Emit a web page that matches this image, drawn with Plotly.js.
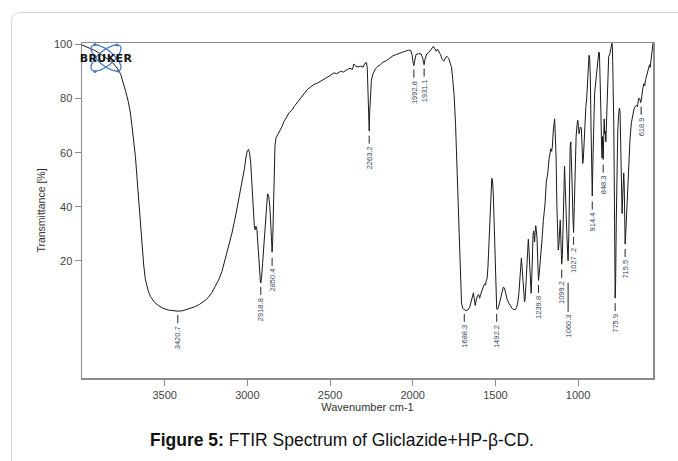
<!DOCTYPE html>
<html>
<head>
<meta charset="utf-8">
<script src="https://cdn.plot.ly/plotly-3.0.1.min.js"></script>
<style>
  html, body { margin: 0; padding: 0; background: #ffffff; }
  #wrap { position: relative; width: 678px; height: 461px; overflow: hidden; }
  #chart { position: absolute; left: 0; top: 0; width: 678px; height: 461px; }
  #frame { position: absolute; left: 11px; top: 12px; width: 720px; height: 520px;
           border: 1px solid #d6d6d6; border-radius: 9px; pointer-events: none; }
  #logo { position: absolute; left: 80px; top: 40px; width: 56px; height: 38px; pointer-events: none; }
</style>
</head>
<body>
<div id="wrap">
  <div id="chart"></div>
  <div id="frame"></div>
  <svg id="logo" viewBox="0 0 56 38" xmlns="http://www.w3.org/2000/svg">
    <g fill="none" stroke="#4a7cc4" stroke-width="1.3">
      <ellipse cx="26" cy="18" rx="18.5" ry="7.5" transform="rotate(40 26 18)"/>
      <ellipse cx="26" cy="18" rx="18.5" ry="7.5" transform="rotate(-40 26 18)"/>
    </g>
    <g fill="#4a7cc4">
      <circle cx="15" cy="4.5" r="1.5"/><circle cx="15" cy="31.5" r="1.5"/>
      <circle cx="38" cy="31" r="1.5"/><circle cx="37" cy="5" r="1.5"/>
    </g>
    <text x="26" y="22" text-anchor="middle" font-family="DejaVu Sans, Liberation Sans, sans-serif"
          font-weight="bold" font-size="11" fill="#111" letter-spacing="0.4">BRUKER</text>
  </svg>
</div>
<script>
// ---- Spectrum data (wavenumber cm-1, transmittance %) ----
const wavenumber = [
 4000,3980,3960,3930,3900,3870,3840,3820,3800,3780,3765,3750,3735,3720,3708,3698,3688,3677,3667,3657,
 3647,3637,3627,3617,3600,3586,3560,3536,3510,3476,3445,3420,3390,3355,3320,3290,3275,3250,3230,3214,
 3195,3175,3154,3135,3115,3093,3070,3050,3033,3018,3008,3000,2993,2987,2980,2972,2965,2958,2953,2948,
 2942,2935,2928,2922,2918.8,2914,2908,2900,2892,2884,2878,2871,2864,2858,2853,2850.4,2847,2843,2838,2833,
 2827,2815,2800,2789,2779,2769,2759,2749,2738,2728,2718,2708,2690,2678,2660,2638,2620,2598,2580,2557,
 2540,2517,2500,2477,2460,2436,2420,2396,2380,2365,2356,2345,2330,2316,2300,2290,2280,2275,2270,2266,
 2263.2,2260,2256,2250,2240,2225,2210,2195,2180,2160,2140,2120,2100,2080,2060,2040,2025,2012,2003,1997,
 1992.8,1988,1980,1965,1950,1940,1935,1931.1,1926,1915,1900,1885,1875,1868,1858,1850,1840,1832,1822,1812,
 1800,1792,1782,1772,1765,1758,1750,1741,1731,1722,1715,1710,1705,1698,1688.3,1675,1665,1655,1645,1638,
 1633,1628,1622,1616,1608,1601,1595,1590,1583,1576,1570,1565,1560,1555,1550,1545,1540,1535,1528,1522,
 1518,1513,1508,1502,1497,1494,1492.2,1488,1482,1475,1468,1460,1452,1445,1438,1430,1420,1410,1399,1390,
 1380,1372,1365,1358,1352,1347,1343,1339,1334,1329,1324,1320,1315,1310,1305,1301,1297,1292,1288,1284,
 1280,1276,1272,1268,1263,1260,1256,1252,1248,1244,1239.8,1236,1230,1224,1218,1210,1200,1192,1184,1176,
 1170,1165,1160,1156,1150,1145,1142,1138,1133,1128,1124,1120,1116,1112,1108,1104,1099.2,1095,1090,1086,
 1082,1078,1074,1068,1064,1060.3,1056,1052,1048,1044,1040,1036,1031,1027.2,1023,1018,1012,1006,1002,998,
 994,990,985,980,976,972,968,963,958,953,948,943,938,934,930,926,922,918,914.4,910,
 905,900,895,890,885,880,875,871,866,862,858,855,852,848.3,845,842,839,836,832,828,
 824,820,815,808,803,798,795,792,788,784,780,777,775.9,773,769,765,760,755,750,746,
 742,738,734,730,727,724,721,718,715.5,712,707,700,693,686,678,670,662,655,648,641,
 634,627,622,618.9,614,608,602,597,592,585,578,573,568,564,560,555,550,547
];
const transmittance = [
 99.8,99.3,98.8,98.0,97.0,95.8,94.5,93.5,92.3,90.7,88.8,86.0,82.5,78.8,75.0,70.0,64.5,58.6,50.5,42.6,
 33.5,25.3,18.5,13.2,9.0,6.8,4.6,3.4,2.5,1.8,1.5,1.4,1.6,2.2,3.0,3.9,4.5,5.6,7.0,8.3,
 10.5,12.8,16.0,20.5,25.0,30.3,37.0,43.5,48.8,54.0,58.5,60.8,61.2,60.0,56.5,48.0,38.0,33.0,31.5,32.8,
 31.5,24.0,17.0,13.0,11.8,14.0,19.0,26.0,35.0,42.5,44.8,44.0,40.0,33.0,25.0,23.2,27.0,40.0,52.0,62.5,
 65.5,66.8,68.5,69.8,71.5,72.8,73.5,74.7,75.3,75.9,77.0,77.8,79.5,80.3,81.8,83.3,84.2,85.2,85.6,86.4,
 87.2,87.7,88.5,89.5,89.2,90.1,89.8,90.7,91.2,90.8,92.8,92.0,91.7,92.0,91.6,93.0,93.3,91.5,84.0,74.0,
 68.0,75.0,83.0,86.8,89.2,91.0,92.0,92.5,93.5,94.0,94.9,95.8,96.3,96.9,97.2,97.6,97.9,97.8,96.0,93.0,
 92.2,94.0,96.3,96.6,96.5,95.0,93.0,92.5,94.5,96.5,97.2,98.5,99.3,98.6,97.5,98.3,97.2,96.3,94.5,93.8,
 95.3,95.6,94.8,93.2,91.5,87.0,81.5,70.5,51.5,31.5,18.0,10.0,4.5,2.5,1.9,1.6,2.0,3.0,5.5,7.5,
 8.2,6.0,3.5,5.5,7.2,7.5,6.2,7.5,9.0,9.8,11.0,11.5,11.0,12.8,13.5,18.0,25.5,36.0,46.0,50.5,
 50.0,45.0,35.0,20.0,9.0,4.0,2.2,2.0,2.8,4.5,6.2,9.0,10.3,10.0,8.0,6.0,4.5,3.2,2.4,2.0,
 2.0,2.8,4.5,8.0,14.0,19.5,21.0,18.0,12.0,8.0,4.8,6.0,13.0,20.5,26.5,28.0,24.0,15.0,9.0,8.0,
 14.0,24.0,30.0,31.0,27.0,30.5,33.0,31.0,28.0,20.0,12.8,14.5,18.5,23.0,28.0,35.0,41.0,49.5,52.0,57.5,
 60.0,61.5,60.5,62.0,68.0,72.5,72.5,67.0,58.0,40.0,27.0,24.0,26.0,33.0,35.0,28.0,18.8,22.0,35.0,50.0,
 55.0,48.0,36.0,30.0,24.0,20.0,30.0,50.0,62.0,64.0,58.0,48.0,36.0,30.5,40.0,55.0,66.0,70.5,72.0,70.0,
 67.0,68.5,69.5,69.0,64.0,56.0,58.0,66.0,75.0,77.0,80.0,88.0,94.0,96.0,95.0,88.0,70.0,52.0,44.0,58.0,
 73.0,82.0,85.0,88.0,92.0,95.0,97.2,97.0,88.0,75.0,62.0,58.0,66.0,57.5,66.0,72.5,67.0,68.0,64.0,72.0,
 82.0,92.0,95.5,96.5,98.5,99.0,100.5,98.0,88.0,70.0,40.0,14.0,6.2,12.0,35.0,55.0,68.0,74.0,76.5,75.0,
 62.0,45.0,37.5,44.0,50.0,52.5,48.0,36.0,26.2,30.0,38.0,48.0,57.0,65.0,71.0,74.5,76.0,77.0,77.5,77.0,
 80.0,80.0,78.5,79.0,82.0,84.0,85.5,84.8,87.0,88.5,90.0,92.0,92.5,91.5,94.0,97.0,99.5,100.5
];

// ---- Peak annotations (Bruker style) ----
const peakWavenumbers = [3420.7,2918.8,2850.4,2263.2,1992.8,1931.1,1688.3,1492.2,1239.8,1099.2,1060.3,1027.2,914.4,848.3,775.9,715.5,618.9];
const peakLabels      = ["3420.7","2918.8","2850.4","2263.2","1992.8","1931.1","1688.3","1492.2","1239.8","1099.2","1060.3","1027 .2","914.4","848.3","775.9","715.5","618.9"];
const peakMarkLevel   = [0.0,10.4,21.1,66.3,90.7,91.1,0.4,0.4,11.1,16.7,11.9,28.9,41.9,55.6,4.4,24.4,77.0];

// ---- Axis ticks ----
const xTicks = [3500,3000,2500,2000,1500,1000];
const yTicks = [20,40,60,80,100];

const FONT = "Liberation Sans, Arial, Helvetica, sans-serif";
const dashLen = {"1060.3": 29};

const shapes = [];
const annotations = [];
peakWavenumbers.forEach((w, i) => {
  const len = dashLen[peakLabels[i]] || 8;
  shapes.push({
    type: "line", xref: "x", yref: "y", ysizemode: "pixel",
    x0: w, x1: w, yanchor: peakMarkLevel[i], y0: 0, y1: -len,
    line: { color: "#222", width: 1 }
  });
  annotations.push({
    x: w, y: peakMarkLevel[i], xref: "x", yref: "y",
    text: peakLabels[i], showarrow: false, textangle: -90,
    xanchor: "center", yanchor: "top", yshift: -(len + 2),
    font: { family: FONT, size: 7.5, color: "#3a4560" }, borderpad: 0
  });
});

annotations.push({
  xref: "paper", yref: "paper", x: 0.456, y: -0.185, xanchor: "center", yanchor: "middle",
  showarrow: false,
  text: "<b>Figure 5:</b> FTIR Spectrum of Gliclazide+HP-\u03b2-CD.",
  font: { family: FONT, size: 17.5, color: "#111" }
});

const trace = {
  x: wavenumber, y: transmittance, type: "scatter", mode: "lines",
  line: { color: "#1a1a1a", width: 1 }, hoverinfo: "skip"
};

const axisCommon = {
  showgrid: false, zeroline: false, showline: true, mirror: true,
  linecolor: "#8c8c8c", linewidth: 1.5, ticks: "outside", ticklen: 6,
  tickcolor: "#8c8c8c", tickwidth: 1,
  tickfont: { family: FONT, size: 11, color: "#444" }
};

const layout = {
  width: 678, height: 461,
  margin: { l: 82, r: 25, t: 43, b: 83 },
  paper_bgcolor: "#ffffff", plot_bgcolor: "#ffffff",
  showlegend: false,
  xaxis: Object.assign({}, axisCommon, {
    range: [4000, 547], autorange: false, tickmode: "array", tickvals: xTicks,
    title: { text: "Wavenumber cm-1", font: { family: FONT, size: 11, color: "#333" }, standoff: 3 }
  }),
  yaxis: Object.assign({}, axisCommon, {
    range: [-23.3, 100.55], autorange: false, tickmode: "array", tickvals: yTicks,
    title: { text: "Transmittance [%]", font: { family: FONT, size: 10.5, color: "#333" }, standoff: 6 }
  }),
  shapes: shapes,
  annotations: annotations
};

Plotly.newPlot("chart", [trace], layout, { staticPlot: true, displayModeBar: false });
</script>
</body>
</html>
